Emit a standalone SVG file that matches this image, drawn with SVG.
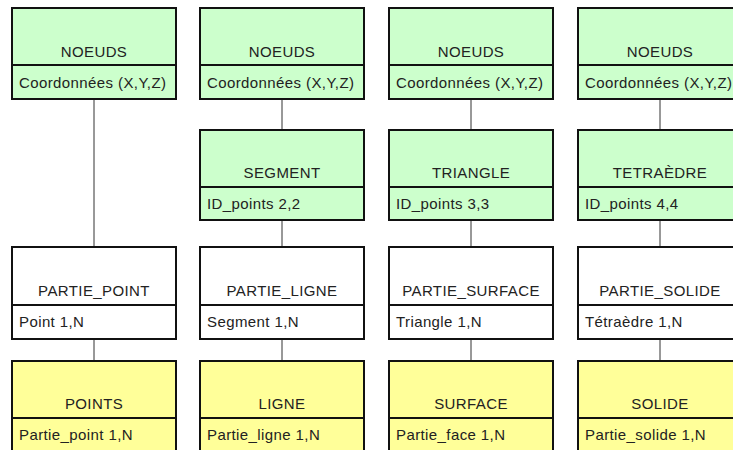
<svg xmlns="http://www.w3.org/2000/svg" width="733" height="450" viewBox="0 0 733 450">
<style>
.box{stroke:#111;stroke-width:2}
.g{fill:#ccffcc}
.w{fill:#ffffff}
.y{fill:#ffff99}
.sep{stroke:#111;stroke-width:2}
.t{font-family:"Liberation Sans",Arial,sans-serif;font-size:15px;letter-spacing:0.4px;fill:#222}
.c{text-anchor:middle}
.conn line{stroke:#333;stroke-width:1}
</style>
<rect width="733" height="450" fill="#fff"/>
<g class="conn">
<line x1="94" y1="99" x2="94" y2="247"/>
<line x1="94" y1="339" x2="94" y2="361"/>
<line x1="282" y1="99" x2="282" y2="130"/>
<line x1="282" y1="220" x2="282" y2="247"/>
<line x1="282" y1="339" x2="282" y2="361"/>
<line x1="471" y1="99" x2="471" y2="130"/>
<line x1="471" y1="220" x2="471" y2="247"/>
<line x1="471" y1="339" x2="471" y2="361"/>
<line x1="660" y1="99" x2="660" y2="130"/>
<line x1="660" y1="220" x2="660" y2="247"/>
<line x1="660" y1="339" x2="660" y2="361"/>
</g>
<g id="noeuds1"><rect class="box g" x="12" y="8" width="164" height="91"/><line class="sep" x1="12" y1="65" x2="176" y2="65"/><text class="t c" x="94" y="57">NOEUDS</text><text class="t" x="19" y="88">Coordonnées (X,Y,Z)</text></g>
<g id="noeuds2"><rect class="box g" x="200" y="8" width="164" height="91"/><line class="sep" x1="200" y1="65" x2="364" y2="65"/><text class="t c" x="282" y="57">NOEUDS</text><text class="t" x="207" y="88">Coordonnées (X,Y,Z)</text></g>
<g id="noeuds3"><rect class="box g" x="389" y="8" width="164" height="91"/><line class="sep" x1="389" y1="65" x2="553" y2="65"/><text class="t c" x="471" y="57">NOEUDS</text><text class="t" x="396" y="88">Coordonnées (X,Y,Z)</text></g>
<g id="noeuds4"><rect class="box g" x="578" y="8" width="164" height="91"/><line class="sep" x1="578" y1="65" x2="742" y2="65"/><text class="t c" x="660" y="57">NOEUDS</text><text class="t" x="585" y="88">Coordonnées (X,Y,Z)</text></g>
<g id="segment"><rect class="box g" x="200" y="130" width="164" height="90"/><line class="sep" x1="200" y1="187" x2="364" y2="187"/><text class="t c" x="282" y="178">SEGMENT</text><text class="t" x="207" y="209">ID_points 2,2</text></g>
<g id="triangle"><rect class="box g" x="389" y="130" width="164" height="90"/><line class="sep" x1="389" y1="187" x2="553" y2="187"/><text class="t c" x="471" y="178">TRIANGLE</text><text class="t" x="396" y="209">ID_points 3,3</text></g>
<g id="tetraedre"><rect class="box g" x="578" y="130" width="164" height="90"/><line class="sep" x1="578" y1="187" x2="742" y2="187"/><text class="t c" x="660" y="178">TETRAÈDRE</text><text class="t" x="585" y="209">ID_points 4,4</text></g>
<g id="partie_point"><rect class="box w" x="12" y="247" width="164" height="92"/><line class="sep" x1="12" y1="305" x2="176" y2="305"/><text class="t c" x="94" y="296">PARTIE_POINT</text><text class="t" x="19" y="327">Point 1,N</text></g>
<g id="partie_ligne"><rect class="box w" x="200" y="247" width="164" height="92"/><line class="sep" x1="200" y1="305" x2="364" y2="305"/><text class="t c" x="282" y="296">PARTIE_LIGNE</text><text class="t" x="207" y="327">Segment 1,N</text></g>
<g id="partie_surface"><rect class="box w" x="389" y="247" width="164" height="92"/><line class="sep" x1="389" y1="305" x2="553" y2="305"/><text class="t c" x="471" y="296">PARTIE_SURFACE</text><text class="t" x="396" y="327">Triangle 1,N</text></g>
<g id="partie_solide"><rect class="box w" x="578" y="247" width="164" height="92"/><line class="sep" x1="578" y1="305" x2="742" y2="305"/><text class="t c" x="660" y="296">PARTIE_SOLIDE</text><text class="t" x="585" y="327">Tétraèdre 1,N</text></g>
<g id="points"><rect class="box y" x="12" y="361" width="164" height="95"/><line class="sep" x1="12" y1="418" x2="176" y2="418"/><text class="t c" x="94" y="409">POINTS</text><text class="t" x="19" y="440">Partie_point 1,N</text></g>
<g id="ligne"><rect class="box y" x="200" y="361" width="164" height="95"/><line class="sep" x1="200" y1="418" x2="364" y2="418"/><text class="t c" x="282" y="409">LIGNE</text><text class="t" x="207" y="440">Partie_ligne 1,N</text></g>
<g id="surface"><rect class="box y" x="389" y="361" width="164" height="95"/><line class="sep" x1="389" y1="418" x2="553" y2="418"/><text class="t c" x="471" y="409">SURFACE</text><text class="t" x="396" y="440">Partie_face 1,N</text></g>
<g id="solide"><rect class="box y" x="578" y="361" width="164" height="95"/><line class="sep" x1="578" y1="418" x2="742" y2="418"/><text class="t c" x="660" y="409">SOLIDE</text><text class="t" x="585" y="440">Partie_solide 1,N</text></g>
</svg>
